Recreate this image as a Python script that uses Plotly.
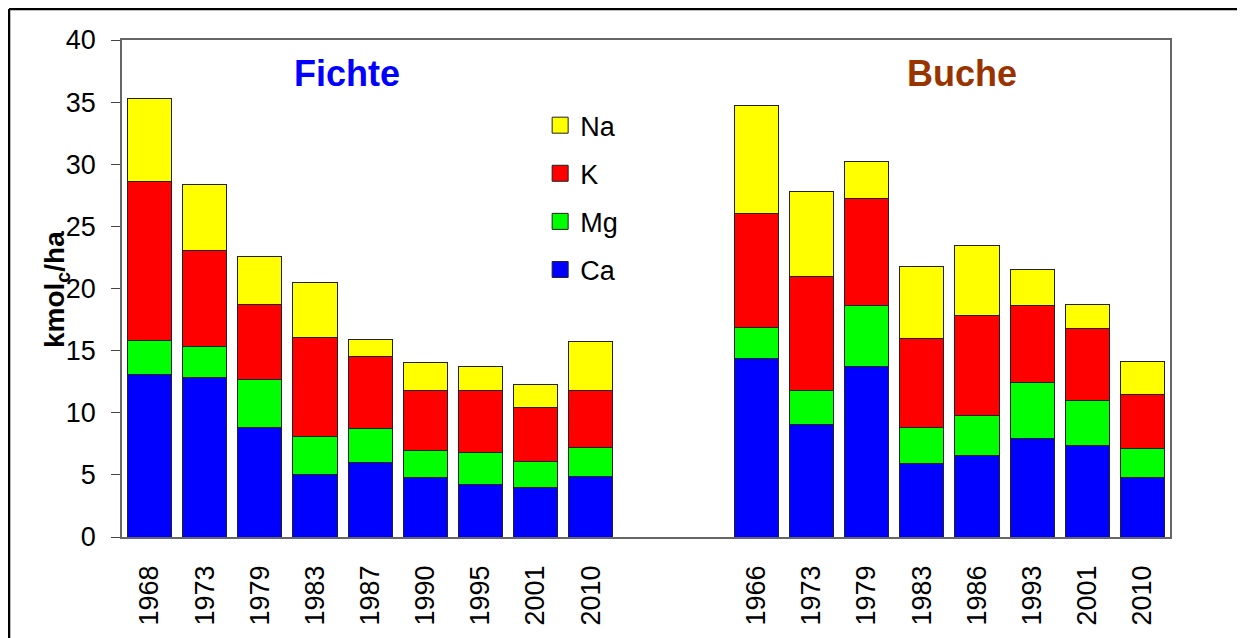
import plotly.graph_objects as go

# Bestandesvorräte austauschbarer Kationen (kmol_c/ha)
fichte_years = ['1968', '1973', '1979', '1983', '1987', '1990', '1995', '2001', '2010']
buche_years = ['1966', '1973', '1979', '1983', '1986', '1993', '2001', '2010']

fichte_ca = [13.1, 12.85, 8.85, 5.0, 6.0, 4.8, 4.2, 4.0, 4.9]
fichte_mg = [2.75, 2.5, 3.85, 3.1, 2.75, 2.2, 2.6, 2.1, 2.3]
fichte_k = [12.75, 7.7, 6.0, 7.95, 5.8, 4.8, 5.0, 4.35, 4.6]
fichte_na = [6.7, 5.3, 3.9, 4.4, 1.35, 2.25, 1.9, 1.8, 3.95]

buche_ca = [14.35, 9.05, 13.7, 5.9, 6.6, 7.95, 7.35, 4.8]
buche_mg = [2.5, 2.75, 4.9, 2.95, 3.15, 4.45, 3.65, 2.3]
buche_k = [9.2, 9.15, 8.65, 7.15, 8.05, 6.2, 5.8, 4.4]
buche_na = [8.7, 6.85, 3.0, 5.8, 5.7, 2.95, 1.95, 2.65]

# Positionen: 9 Fichte-Jahre, zwei leere Plätze, 8 Buche-Jahre
x_fichte = list(range(len(fichte_years)))
x_buche = [len(fichte_years) + 2 + i for i in range(len(buche_years))]
x_all = x_fichte + x_buche
labels_all = fichte_years + buche_years

series = [
    ('Ca', fichte_ca + buche_ca, '#0000FF'),
    ('Mg', fichte_mg + buche_mg, '#00FF00'),
    ('K', fichte_k + buche_k, '#FF0000'),
    ('Na', fichte_na + buche_na, '#FFFF00'),
]

font = 'Arial, Liberation Sans, sans-serif'

fig = go.Figure()
for name, vals, col in series:
    fig.add_trace(go.Bar(x=x_all, y=vals, name=name, marker_color=col,
                         marker_line=dict(color='#222222', width=1),
                         showlegend=False))

# Legende mit größeren Quadraten (Na oben)
for i, (name, vals, col) in enumerate(reversed(series)):
    fig.add_trace(go.Scatter(x=[None], y=[None], mode='markers', name=name,
                             legendgroup=name, legendrank=i,
                             marker=dict(symbol='square', size=20, color=col,
                                         line=dict(color='#222222', width=1))))

# die Seite hat 8px Rand, deshalb etwas kleiner und verschoben
fig.update_layout(
    width=1237, height=630,
    barmode='stack', bargap=0.2,
    margin=dict(l=114, r=75, t=32, b=101),
    paper_bgcolor='white', plot_bgcolor='white',
    font=dict(family=font, color='black', size=26),
    legend=dict(x=0.399, y=0.877, xanchor='left', yanchor='top',
                traceorder='grouped', tracegroupgap=10,
                font=dict(size=27), bgcolor='rgba(0,0,0,0)',
                itemwidth=30),
    xaxis=dict(range=[-0.5, len(x_all) + 1.5], tickmode='array',
               tickvals=x_all, ticktext=labels_all, tickangle=-90,
               showline=True, linecolor='#666666', linewidth=1.5, mirror=True,
               ticks='', ticklabelstandoff=16, showgrid=False, zeroline=False,
               tickfont=dict(size=27)),
    yaxis=dict(range=[0, 40], dtick=5, ticks='outside', ticklen=9,
               tickcolor='#444444', showline=True, linecolor='#666666',
               linewidth=1.5, mirror=True, showgrid=False, zeroline=False,
               ticklabelstandoff=10, tickfont=dict(size=27)),
    showlegend=True,
)

fig.add_annotation(x=-0.062, y=0.497, xref='paper', yref='paper',
                   text='<b>kmol<sub>c</sub>/ha</b>', textangle=-90,
                   showarrow=False, xanchor='center', yanchor='middle',
                   font=dict(size=28))
fig.add_annotation(x=0.2147, y=0.933, xref='paper', yref='paper',
                   text='<b>Fichte</b>', showarrow=False,
                   xanchor='center', yanchor='middle',
                   font=dict(size=36, color='#0000FF'))
fig.add_annotation(x=0.8015, y=0.933, xref='paper', yref='paper',
                   text='<b>Buche</b>', showarrow=False,
                   xanchor='center', yanchor='middle',
                   font=dict(size=36, color='#993300'))

# äußerer Rahmen (oben und links)
fig.add_shape(type='line', xref='paper', yref='paper',
              x0=-0.1078, x1=1.08, y0=1.0624, y1=1.0624,
              line=dict(color='black', width=2.5))
fig.add_shape(type='line', xref='paper', yref='paper',
              x0=-0.1078, x1=-0.1078, y0=1.0624, y1=-0.25,
              line=dict(color='black', width=2.5))

fig.write_html('out.html')
